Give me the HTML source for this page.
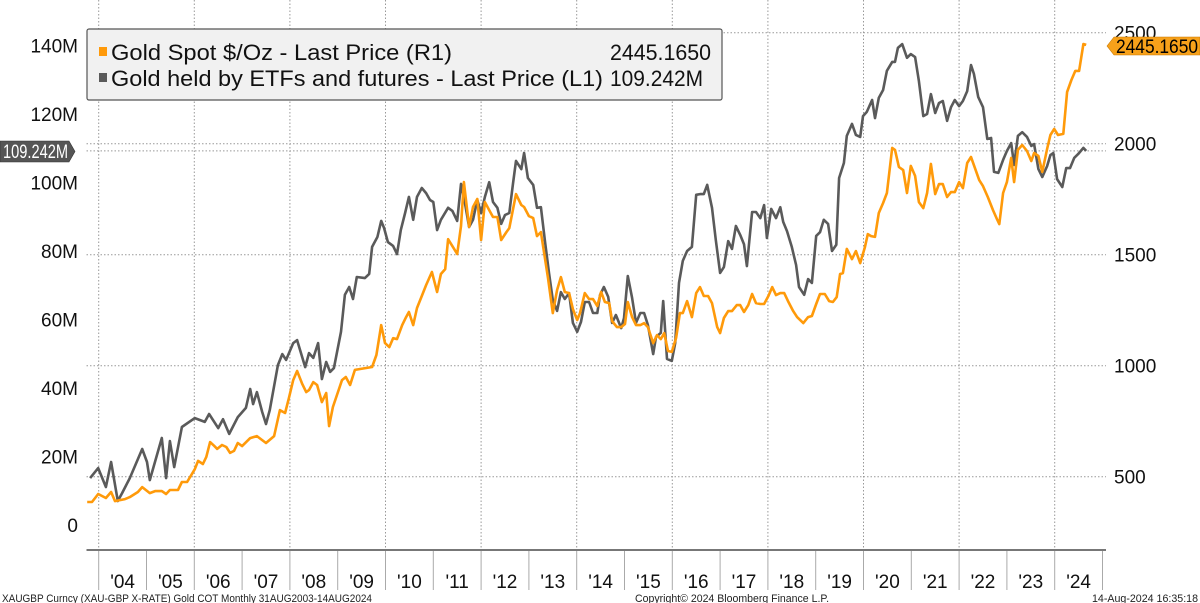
<!DOCTYPE html>
<html>
<head>
<meta charset="utf-8">
<style>
  html,body{margin:0;padding:0;background:#fff;}
  svg{display:block;font-family:"Liberation Sans",Tahoma,sans-serif;}
</style>
</head>
<body>
<svg id="chart" width="1200" height="603" viewBox="0 0 1200 603" xmlns="http://www.w3.org/2000/svg">
  <g id="grid"></g>
  <g id="axes"></g>
  <g id="series"></g>

  <g>
    <rect x="87" y="29" width="635" height="71" rx="2" fill="#f1f1f1" stroke="#555" stroke-width="1.2"/>
    <rect x="99" y="47" width="8" height="9" fill="#ff9a0a"/>
    <text x="111" y="60" font-size="22" fill="#111" textLength="341" lengthAdjust="spacingAndGlyphs">Gold Spot $/Oz - Last Price (R1)</text>
    <text x="610" y="60" font-size="22" fill="#111" textLength="101" lengthAdjust="spacingAndGlyphs">2445.1650</text>
    <rect x="99" y="73" width="8" height="9" fill="#5a5a5a"/>
    <text x="111" y="86" font-size="22" fill="#111" textLength="492" lengthAdjust="spacingAndGlyphs">Gold held by ETFs and futures - Last Price (L1)</text>
    <text x="610" y="86" font-size="22" fill="#111" textLength="93" lengthAdjust="spacingAndGlyphs">109.242M</text>
  </g>

  <g>
    <polygon points="1107,46 1114,37 1200,37 1200,55 1114,55" fill="#f7a11a" stroke="#c77800" stroke-width="0.6"/>
    <text x="1116" y="53" font-size="19" fill="#000" textLength="82" lengthAdjust="spacingAndGlyphs">2445.1650</text>
  </g>
  <g>
    <polygon points="0,141 69,141 75,151.5 69,162 0,162" fill="#555" stroke="#333" stroke-width="0.6"/>
    <text x="3" y="158" font-size="19" fill="#fff" textLength="65" lengthAdjust="spacingAndGlyphs">109.242M</text>
  </g>

  <g>
    <text x="2" y="602" font-size="11" fill="#222" textLength="370" lengthAdjust="spacingAndGlyphs">XAUGBP Curncy (XAU-GBP X-RATE) Gold COT  Monthly 31AUG2003-14AUG2024</text>
    <text x="635" y="602" font-size="11" fill="#222" textLength="194" lengthAdjust="spacingAndGlyphs">Copyright© 2024 Bloomberg Finance L.P.</text>
    <text x="1092" y="602" font-size="11" fill="#222" textLength="106" lengthAdjust="spacingAndGlyphs">14-Aug-2024 16:35:18</text>
  </g>
</svg>
<script>
const leftTicks = [0, 20, 40, 60, 80, 100, 120, 140];
const leftTickLabels = ["0", "20M", "40M", "60M", "80M", "100M", "120M", "140M"];
const rightTicks = [500, 1000, 1500, 2000, 2500];
const rightTickLabels = ["500", "1000", "1500", "2000", "2500"];
const yearTicks = [2004,2005,2006,2007,2008,2009,2010,2011,2012,2013,2014,2015,2016,2017,2018,2019,2020,2021,2022,2023,2024];
const yearLabels = ["'04","'05","'06","'07","'08","'09","'10","'11","'12","'13","'14","'15","'16","'17","'18","'19","'20","'21","'22","'23","'24"];

const etfDates = [2003.82,2003.99,2004.15,2004.26,2004.40,2004.49,2004.65,2004.91,2005.01,2005.07,2005.32,2005.41,2005.49,2005.58,2005.74,2006.01,2006.22,2006.31,2006.50,2006.60,2006.73,2006.91,2007.08,2007.17,2007.23,2007.31,2007.42,2007.50,2007.58,2007.75,2007.84,2007.92,2008.07,2008.15,2008.32,2008.40,2008.49,2008.59,2008.67,2008.76,2008.84,2008.92,2009.07,2009.15,2009.24,2009.32,2009.40,2009.57,2009.66,2009.72,2009.83,2009.91,2009.97,2010.05,2010.16,2010.24,2010.32,2010.41,2010.49,2010.58,2010.66,2010.76,2010.85,2010.93,2011.00,2011.08,2011.16,2011.31,2011.40,2011.50,2011.58,2011.67,2011.75,2011.83,2011.92,2012.00,2012.08,2012.17,2012.25,2012.34,2012.42,2012.50,2012.59,2012.67,2012.73,2012.84,2012.90,2012.98,2013.09,2013.17,2013.25,2013.34,2013.42,2013.50,2013.59,2013.67,2013.75,2013.84,2013.92,2014.01,2014.09,2014.17,2014.26,2014.34,2014.43,2014.49,2014.57,2014.66,2014.74,2014.82,2014.93,2014.99,2015.07,2015.16,2015.24,2015.33,2015.41,2015.49,2015.60,2015.66,2015.76,2015.81,2015.89,2015.99,2016.06,2016.14,2016.22,2016.31,2016.41,2016.50,2016.58,2016.66,2016.73,2016.83,2016.91,2017.00,2017.08,2017.17,2017.25,2017.33,2017.42,2017.50,2017.56,2017.67,2017.75,2017.84,2017.92,2017.98,2018.07,2018.17,2018.26,2018.32,2018.40,2018.50,2018.59,2018.65,2018.76,2018.84,2018.92,2019.01,2019.09,2019.17,2019.26,2019.34,2019.43,2019.49,2019.59,2019.65,2019.76,2019.84,2019.93,2019.99,2020.07,2020.18,2020.24,2020.32,2020.41,2020.49,2020.60,2020.66,2020.72,2020.81,2020.91,2020.99,2021.08,2021.16,2021.25,2021.33,2021.41,2021.50,2021.58,2021.66,2021.75,2021.83,2021.91,2022.00,2022.08,2022.17,2022.25,2022.31,2022.40,2022.50,2022.59,2022.67,2022.73,2022.82,2022.92,2023.00,2023.09,2023.15,2023.23,2023.32,2023.42,2023.51,2023.57,2023.66,2023.74,2023.84,2023.91,2023.97,2024.05,2024.16,2024.24,2024.32,2024.41,2024.49,2024.60,2024.66];
const etfValues = [13.7,16.6,11.1,18.4,7.0,9.3,13.7,22.2,18.4,13.1,25.4,13.7,24.5,16.9,28.6,31.2,30.1,32.4,28.3,30.9,26.6,31.5,34.2,39.7,35.3,38.8,33.0,29.5,33.6,46.7,49.9,48.2,53.1,54.0,46.1,50.2,48.8,53.1,42.6,47.6,44.7,45.8,56.4,67.2,69.5,66.0,72.4,72.1,73.3,81.2,84.1,88.8,86.7,82.6,81.5,79.1,86.1,91.1,95.8,89.1,95.8,98.4,96.9,94.9,94.3,86.1,89.1,92.6,91.7,88.8,99.6,93.4,87.0,89.1,94.9,91.1,95.8,100.1,94.3,92.6,87.9,90.5,91.1,99.9,106.3,103.9,108.6,101.3,99.3,92.6,92.8,82.3,73.6,65.7,62.5,68.0,66.0,67.7,59.0,56.4,59.3,65.1,65.1,61.9,61.9,67.2,69.5,66.6,59.0,61.3,57.5,60.4,72.7,66.3,59.0,61.9,61.9,58.4,49.9,54.9,56.1,65.4,48.5,47.9,53.1,70.7,77.1,80.0,81.2,96.4,96.6,96.6,99.3,92.6,83.2,73.6,75.3,82.9,80.6,87.3,84.7,82.0,75.6,91.4,91.4,89.6,93.4,83.8,92.3,89.6,92.8,88.5,85.8,81.2,75.9,69.5,67.2,71.8,70.7,84.4,85.5,89.1,87.9,80.0,81.8,101.3,105.7,113.6,117.1,113.9,113.3,119.4,120.6,124.1,118.8,124.7,127.0,132.6,135.2,135.2,139.3,140.4,136.4,137.5,136.6,129.6,119.4,120.0,125.8,120.3,123.2,123.8,118.0,122.0,124.1,122.3,123.8,126.7,134.3,131.7,125.0,122.0,112.7,113.0,103.1,102.8,106.6,109.2,111.5,105.1,113.6,114.7,113.3,110.7,111.2,103.9,101.6,104.8,108.0,108.6,101.0,98.7,104.2,104.2,107.2,108.3,110.1,109.24];

const goldDates = [2003.76,2003.86,2003.99,2004.15,2004.26,2004.34,2004.55,2004.65,2004.82,2004.91,2005.07,2005.18,2005.32,2005.41,2005.49,2005.66,2005.74,2005.85,2006.01,2006.08,2006.18,2006.25,2006.33,2006.42,2006.48,2006.58,2006.67,2006.75,2006.83,2006.91,2007.00,2007.17,2007.31,2007.50,2007.67,2007.79,2007.90,2007.98,2008.07,2008.15,2008.26,2008.34,2008.40,2008.49,2008.57,2008.67,2008.76,2008.82,2008.90,2009.09,2009.17,2009.26,2009.36,2009.72,2009.81,2009.91,2009.99,2010.08,2010.16,2010.24,2010.35,2010.43,2010.49,2010.58,2010.66,2010.76,2010.85,2010.97,2011.08,2011.16,2011.25,2011.31,2011.41,2011.50,2011.58,2011.64,2011.75,2011.83,2011.92,2012.00,2012.08,2012.17,2012.25,2012.34,2012.42,2012.53,2012.59,2012.73,2012.84,2012.90,2013.00,2013.09,2013.17,2013.25,2013.40,2013.50,2013.59,2013.67,2013.75,2013.84,2013.92,2014.01,2014.07,2014.17,2014.26,2014.34,2014.43,2014.51,2014.59,2014.68,2014.74,2014.84,2014.93,2015.01,2015.07,2015.16,2015.24,2015.33,2015.41,2015.49,2015.60,2015.68,2015.76,2015.83,2015.91,2015.99,2016.08,2016.16,2016.22,2016.31,2016.41,2016.50,2016.58,2016.66,2016.75,2016.83,2016.94,2017.00,2017.08,2017.17,2017.25,2017.35,2017.42,2017.50,2017.59,2017.67,2017.75,2017.84,2017.92,2018.01,2018.09,2018.17,2018.26,2018.34,2018.42,2018.53,2018.61,2018.74,2018.84,2018.92,2019.01,2019.09,2019.19,2019.28,2019.36,2019.44,2019.51,2019.57,2019.65,2019.76,2019.84,2019.93,2020.03,2020.09,2020.16,2020.24,2020.32,2020.41,2020.49,2020.60,2020.66,2020.74,2020.83,2020.91,2020.99,2021.08,2021.16,2021.25,2021.33,2021.41,2021.50,2021.58,2021.66,2021.75,2021.83,2021.91,2022.00,2022.08,2022.17,2022.25,2022.33,2022.42,2022.50,2022.60,2022.71,2022.79,2022.84,2022.92,2023.00,2023.09,2023.15,2023.23,2023.32,2023.42,2023.51,2023.57,2023.66,2023.74,2023.84,2023.91,2023.99,2024.07,2024.18,2024.26,2024.35,2024.43,2024.51,2024.60,2024.66];
const goldValues = [386,386,422,404,431,390,399,408,431,453,426,435,435,422,440,440,476,476,534,571,557,589,656,638,625,643,634,607,616,652,638,674,683,652,683,800,787,854,935,976,917,881,890,926,913,836,877,728,814,935,949,913,981,994,1048,1183,1102,1084,1124,1120,1183,1219,1242,1183,1260,1314,1363,1422,1332,1413,1435,1570,1535,1503,1629,1827,1625,1715,1751,1566,1737,1701,1670,1670,1566,1602,1620,1773,1724,1715,1674,1665,1584,1602,1395,1237,1341,1399,1332,1327,1255,1206,1237,1327,1300,1300,1269,1332,1287,1282,1201,1174,1174,1188,1287,1219,1183,1183,1192,1174,1102,1138,1120,1147,1066,1062,1125,1237,1237,1291,1219,1327,1354,1314,1314,1282,1174,1147,1215,1246,1246,1273,1273,1242,1273,1323,1282,1278,1278,1314,1354,1318,1327,1327,1291,1246,1219,1192,1219,1224,1278,1323,1323,1291,1287,1309,1413,1417,1526,1480,1516,1462,1534,1593,1584,1580,1688,1733,1778,1981,1972,1895,1881,1778,1900,1855,1737,1710,1778,1909,1773,1818,1818,1760,1782,1782,1827,1800,1913,1940,1891,1836,1809,1760,1701,1661,1638,1778,1827,1936,1827,1972,1994,1967,1922,1958,1945,1873,1976,2039,2066,2039,2044,2233,2287,2328,2328,2449,2445.165];

const NS = "http://www.w3.org/2000/svg";
const plotLeft = 86.5, plotRight = 1106, axisY = 550;
function xScale(t){ return 98.7 + (t - 2004) * 47.8; }
function yRight(v){ return 143.7 + (2000 - v) * 0.222; }
function yLeft(m){ return 525 - m * 3.425; }
function mk(tag, attrs, parent){
  const el = document.createElementNS(NS, tag);
  for (const k in attrs) el.setAttribute(k, attrs[k]);
  parent.appendChild(el);
  return el;
}
const grid = document.getElementById('grid');
const axes = document.getElementById('axes');
const series = document.getElementById('series');

rightTicks.forEach((v, i) => {
  const y = yRight(v);
  const ln = mk('line', {x1: plotLeft, x2: plotRight, y1: y, y2: y, stroke: '#999', 'stroke-width': 1, 'stroke-dasharray': '1.5,2'}, grid);
  
  
  const tx = mk('text', {x: 1114, y: y + 7, 'font-size': 19, fill: '#111'}, axes);
  tx.textContent = rightTickLabels[i];
  
  
});
{
  const y = yLeft(109.242);
  const ln = mk('line', {x1: plotLeft, x2: plotRight, y1: y, y2: y, stroke: '#999', 'stroke-width': 1, 'stroke-dasharray': '1.5,2'}, grid);
  
  
}
leftTicks.forEach((v, i) => {
  const tx = mk('text', {x: 78, y: yLeft(v) + 7, 'font-size': 19, fill: '#111', 'text-anchor': 'end'}, axes);
  tx.textContent = leftTickLabels[i];
  
  
});
yearTicks.forEach((yr, i) => {
  const x = xScale(yr);
  if ((yr - 2004) % 2 === 0) {
    const g = mk('line', {x1: x, x2: x, y1: 0, y2: axisY, stroke: '#999', 'stroke-width': 1, 'stroke-dasharray': '1.5,2'}, grid);
    
    
  }
  const tk = mk('line', {x1: x, x2: x, y1: axisY, y2: 590, stroke: '#aaa', 'stroke-width': 1}, axes);
  
  
  const tx = mk('text', {x: xScale(yr + 0.5), y: 588, 'font-size': 19, fill: '#111', 'text-anchor': 'middle'}, axes);
  tx.textContent = yearLabels[i];
  
  
});
{
  const x = xScale(2025);
  const tk = mk('line', {x1: x, x2: x, y1: axisY, y2: 590, stroke: '#aaa', 'stroke-width': 1}, axes);
  
  
  const ax = mk('line', {x1: plotLeft, x2: plotRight, y1: axisY, y2: axisY, stroke: '#777', 'stroke-width': 2}, axes);
  
  
}

const etfPath = etfDates.map((t, i) => (i ? 'L' : 'M') + xScale(t).toFixed(1) + ',' + yLeft(etfValues[i]).toFixed(1)).join(' ');
const etfLine = mk('path', {d: etfPath, fill: 'none', stroke: '#5a5a5a', 'stroke-width': 2.6, 'stroke-linejoin': 'round'}, series);



const goldPath = goldDates.map((t, i) => (i ? 'L' : 'M') + xScale(t).toFixed(1) + ',' + yRight(goldValues[i]).toFixed(1)).join(' ');
const goldLine = mk('path', {d: goldPath, fill: 'none', stroke: '#ff9a0a', 'stroke-width': 2.6, 'stroke-linejoin': 'round'}, series);


</script>
</body>
</html>
